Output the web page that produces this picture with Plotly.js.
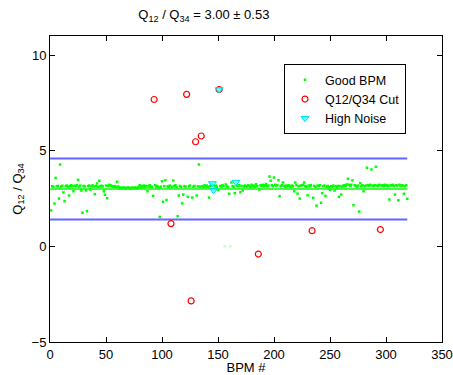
<!DOCTYPE html>
<html>
<head>
<meta charset="utf-8">
<script src="https://cdn.plot.ly/plotly-3.0.1.min.js"></script>
<style>html,body{margin:0;padding:0;background:#fff;}#chart{width:453px;height:375px;}</style>
</head>
<body>
<div id="chart"></div>
<script>
// Ratio Q12/Q34 per BPM (1..319); null = not a good BPM
const goodRatio = [
1.88,3.15,3.12,2.24,3.58,3.14,3.16,2.50,4.28,3.13,
3.17,2.82,2.36,3.15,3.18,3.12,2.66,3.16,3.20,3.14,
2.88,3.17,3.15,3.20,3.48,3.13,3.18,2.92,1.76,3.16,
3.14,2.92,1.84,3.15,3.18,2.97,3.14,3.19,3.13,2.73,
3.16,3.29,3.12,3.43,3.15,3.17,3.14,2.88,2.70,3.18,
2.52,3.15,3.22,3.19,3.16,3.13,3.12,3.15,3.10,3.38,
3.13,3.08,3.06,3.04,3.08,3.05,3.07,3.04,3.06,3.08,
3.05,3.04,3.07,3.06,3.05,3.08,3.04,3.06,3.10,3.20,
3.08,3.16,3.12,3.18,3.10,3.15,2.88,3.14,3.20,3.12,
3.12,2.64,null,3.20,3.10,3.15,3.08,1.54,3.12,3.41,
2.33,3.15,3.46,2.42,3.14,3.10,3.18,null,3.12,3.44,
3.15,3.20,3.10,1.58,2.66,3.16,3.12,2.25,2.71,3.15,
3.12,null,2.59,3.14,3.18,null,2.55,3.12,3.16,null,
2.66,3.14,4.28,3.12,null,3.15,3.10,3.20,3.14,3.18,
3.12,2.55,3.16,3.22,null,null,3.14,3.18,3.12,2.94,
null,3.16,3.12,3.20,3.15,null,3.24,3.14,3.10,2.75,
null,3.34,3.15,3.12,2.78,null,3.18,3.14,3.20,2.83,
3.16,2.92,3.13,3.18,3.15,3.12,3.20,3.16,3.10,3.22,
3.14,3.18,3.12,3.25,3.15,null,2.97,3.20,3.16,3.22,
3.14,3.20,3.26,3.15,3.18,3.65,3.43,3.20,3.15,3.60,
3.22,3.17,3.20,3.46,2.62,3.15,3.20,3.34,3.16,3.12,
3.18,3.14,3.20,3.15,3.12,3.18,3.14,2.88,3.34,3.20,
2.76,3.15,2.50,3.18,3.20,3.22,3.34,3.16,3.12,2.67,
3.18,3.14,3.20,null,2.54,3.16,3.12,2.13,3.18,3.15,
3.20,2.28,2.78,3.14,3.18,2.64,3.12,3.16,3.10,2.96,
3.15,3.12,3.18,2.92,3.14,3.10,3.16,2.59,3.15,2.71,
3.12,3.18,3.20,3.16,3.24,3.53,3.22,3.15,3.22,3.45,
2.15,3.20,3.16,3.12,3.18,1.82,3.30,3.14,3.20,2.88,
3.15,3.18,4.11,3.20,3.16,3.22,4.02,3.18,3.15,3.20,
4.16,3.18,3.16,3.22,null,3.18,3.20,3.15,3.22,3.18,
3.20,3.16,2.45,3.20,3.18,3.22,3.16,2.71,3.20,3.18,
2.41,3.22,3.16,3.20,3.18,2.75,3.15,3.20,2.49
];
const goodBpm = goodRatio.map((v, i) => i + 1);

// Faint points at zero
const zeroBpm = [156, 161];
const zeroRatio = [0, 0];

// Q12/Q34 cut
const cutBpm = [93, 108, 122, 126, 130, 135, 151, 186, 234, 295];
const cutRatio = [7.68, 1.19, 7.95, -2.85, 5.47, 5.77, 8.2, -0.40, 0.82, 0.88];

// High noise
const noiseBpm = [145, 146, 151, 166];
const noiseRatio = [3.29, 2.94, 8.2, 3.36];

// Summary lines
const meanRatio = 3.00;
const sigmaRatio = 0.53;
const lineBpm = [0, 319];

const traces = [
  {x: goodBpm, y: goodRatio, mode: 'markers', type: 'scatter', name: 'Good BPM',
   marker: {color: '#00ff00', size: 2.5, symbol: 'square'}},
  {x: zeroBpm, y: zeroRatio, mode: 'markers', type: 'scatter', showlegend: false,
   marker: {color: 'rgb(200,255,200)', size: 2.5, symbol: 'square'}},
  {x: lineBpm, y: [meanRatio, meanRatio], mode: 'lines', showlegend: false,
   line: {color: '#00ff00', width: 1.5}},
  {x: lineBpm, y: [meanRatio + 3*sigmaRatio, meanRatio + 3*sigmaRatio], mode: 'lines', showlegend: false,
   line: {color: 'rgb(100,100,255)', width: 2}},
  {x: lineBpm, y: [meanRatio - 3*sigmaRatio, meanRatio - 3*sigmaRatio], mode: 'lines', showlegend: false,
   line: {color: 'rgb(100,100,255)', width: 2}},
  {x: cutBpm, y: cutRatio, mode: 'markers', type: 'scatter', name: 'Q12/Q34 Cut',
   marker: {color: 'red', size: 6, symbol: 'circle-open', line: {width: 1.2}}},
  {x: noiseBpm, y: noiseRatio, mode: 'markers', type: 'scatter', name: 'High Noise',
   marker: {color: 'rgba(0,255,255,0.6)', size: 7, symbol: 'triangle-down', line: {color: 'rgb(0,220,230)', width: 1}}}
];

const axisCommon = {
  showline: true, linecolor: 'black', linewidth: 1, mirror: 'ticks',
  ticks: 'inside', ticklen: 5, tickcolor: 'black', showgrid: false, zeroline: false,
  tickfont: {family: 'Liberation Sans, Arial, sans-serif', size: 13, color: 'black'}
};

const layout = {
  width: 453, height: 375,
  margin: {l: 50, r: 11, t: 36, b: 33},
  paper_bgcolor: 'white', plot_bgcolor: 'white',
  font: {family: 'Liberation Sans, Arial, sans-serif', color: 'black'},
  title: {text: 'Q<sub>12</sub> / Q<sub>34</sub> = 3.00 ± 0.53', x: 0.45, xanchor: 'center', y: 0.962, yanchor: 'middle',
          font: {size: 13, color: 'black'}},
  xaxis: Object.assign({}, axisCommon, {range: [0, 350], tickvals: [0,50,100,150,200,250,300,350],
          title: {text: 'BPM #', standoff: 0, font: {size: 13}}}),
  yaxis: Object.assign({}, axisCommon, {range: [-5, 11], tickvals: [-5,0,5,10],
          title: {text: 'Q<sub>12</sub> / Q<sub>34</sub>', standoff: 6, font: {size: 13}}}),
  legend: {x: 0.597, y: 0.908, xanchor: 'left', yanchor: 'top', bgcolor: 'white',
           bordercolor: 'black', borderwidth: 1, font: {size: 12.5}, tracegroupgap: 0, itemwidth: 30},
  showlegend: true
};

Plotly.newPlot('chart', traces, layout, {displayModeBar: false, staticPlot: true});
</script>
</body>
</html>
